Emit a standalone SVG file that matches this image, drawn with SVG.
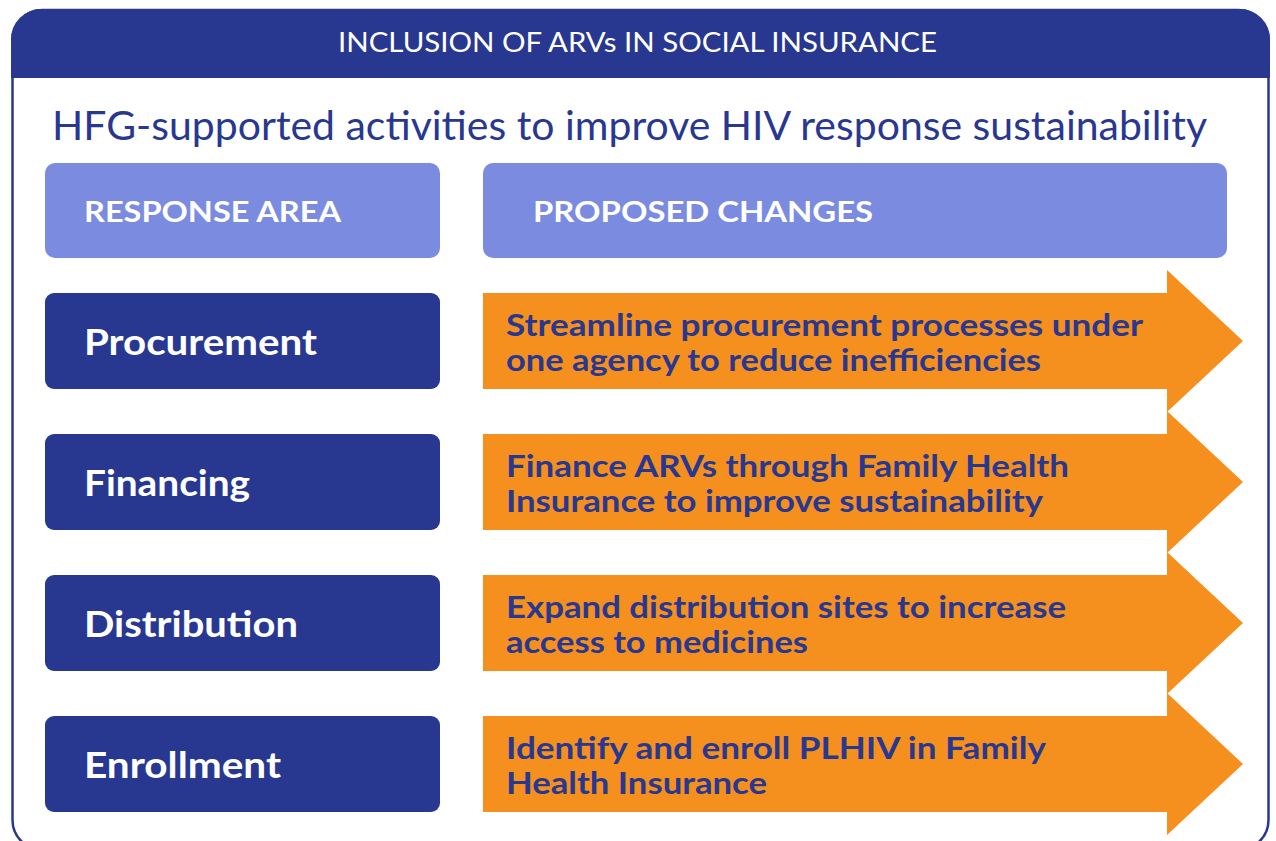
<svg xmlns="http://www.w3.org/2000/svg" width="1276" height="841" viewBox="0 0 1276 841">
<style>
.hdr{font-family:Lato,"Liberation Sans",sans-serif;fill:#ffffff}
.sub{font-family:Lato,"Liberation Sans",sans-serif;fill:#283891;font-size:40px}
.colh{font-family:Lato,"Liberation Sans",sans-serif;font-weight:bold;fill:#ffffff;font-size:29px}
.area{font-family:Lato,"Liberation Sans",sans-serif;font-weight:bold;fill:#ffffff;font-size:37px}
.chg{font-family:Lato,"Liberation Sans",sans-serif;font-weight:bold;fill:#283891;font-size:30px}
.dark{fill:#283891}
.light{fill:#7B8CE0}
.arrow{fill:#F5901E}
</style>
<g id="frame">
<rect x="12.5" y="10" width="1256" height="840" rx="30" ry="30" fill="#ffffff" stroke="#283891" stroke-width="2.5"/>
<path class="dark" d="M11,78 V40 A30,30 0 0 1 41,9 H1240 A30,30 0 0 1 1270,40 V78 Z"/>
<text class="hdr" x="338" y="52" font-size="26" textLength="599" lengthAdjust="spacingAndGlyphs">INCLUSION OF ARVs IN SOCIAL INSURANCE</text>
<text class="sub" x="52" y="140" textLength="1155" lengthAdjust="spacingAndGlyphs">HFG-supported activities to improve HIV response sustainability</text>
</g>
<g id="col-response-area">
<rect class="light" x="45" y="163" width="395" height="95" rx="10"/>
<text class="colh" x="84" y="222" textLength="257" lengthAdjust="spacingAndGlyphs">RESPONSE AREA</text>
</g>
<g id="col-proposed-changes">
<rect class="light" x="483" y="163" width="744" height="95" rx="10"/>
<text class="colh" x="533" y="222" textLength="340" lengthAdjust="spacingAndGlyphs">PROPOSED CHANGES</text>
</g>
<g id="area-procurement">
<rect class="dark" x="45" y="293" width="395" height="96" rx="9"/>
<text class="area" x="84" y="355" textLength="233" lengthAdjust="spacingAndGlyphs">Procurement</text>
</g>
<g id="area-financing">
<rect class="dark" x="45" y="434" width="395" height="96" rx="9"/>
<text class="area" x="84" y="496" textLength="166" lengthAdjust="spacingAndGlyphs">Financing</text>
</g>
<g id="area-distribution">
<rect class="dark" x="45" y="575" width="395" height="96" rx="9"/>
<text class="area" x="84" y="637" textLength="214" lengthAdjust="spacingAndGlyphs">Distribution</text>
</g>
<g id="area-enrollment">
<rect class="dark" x="45" y="716" width="395" height="96" rx="9"/>
<text class="area" x="84" y="778" textLength="197" lengthAdjust="spacingAndGlyphs">Enrollment</text>
</g>
<g id="change-procurement">
<polygon class="arrow" points="483,293 1167,293 1167,270 1243,341 1167,412 1167,389 483,389"/>
<text class="chg" x="506" y="336" textLength="637" lengthAdjust="spacingAndGlyphs">Streamline procurement processes under</text>
<text class="chg" x="506" y="371" textLength="535" lengthAdjust="spacingAndGlyphs">one agency to reduce inefficiencies</text>
</g>
<g id="change-financing">
<polygon class="arrow" points="483,434 1167,434 1167,411 1243,482 1167,553 1167,530 483,530"/>
<text class="chg" x="506" y="477" textLength="563" lengthAdjust="spacingAndGlyphs">Finance ARVs through Family Health</text>
<text class="chg" x="506" y="512" textLength="537" lengthAdjust="spacingAndGlyphs">Insurance to improve sustainability</text>
</g>
<g id="change-distribution">
<polygon class="arrow" points="483,575 1167,575 1167,552 1243,623 1167,694 1167,671 483,671"/>
<text class="chg" x="506" y="618" textLength="560" lengthAdjust="spacingAndGlyphs">Expand distribution sites to increase</text>
<text class="chg" x="506" y="653" textLength="302" lengthAdjust="spacingAndGlyphs">access to medicines</text>
</g>
<g id="change-enrollment">
<polygon class="arrow" points="483,716 1167,716 1167,693 1243,764 1167,835 1167,812 483,812"/>
<text class="chg" x="506" y="759" textLength="540" lengthAdjust="spacingAndGlyphs">Identify and enroll PLHIV in Family</text>
<text class="chg" x="506" y="794" textLength="261" lengthAdjust="spacingAndGlyphs">Health Insurance</text>
</g>
<g id="connectors"></g>
</svg>
